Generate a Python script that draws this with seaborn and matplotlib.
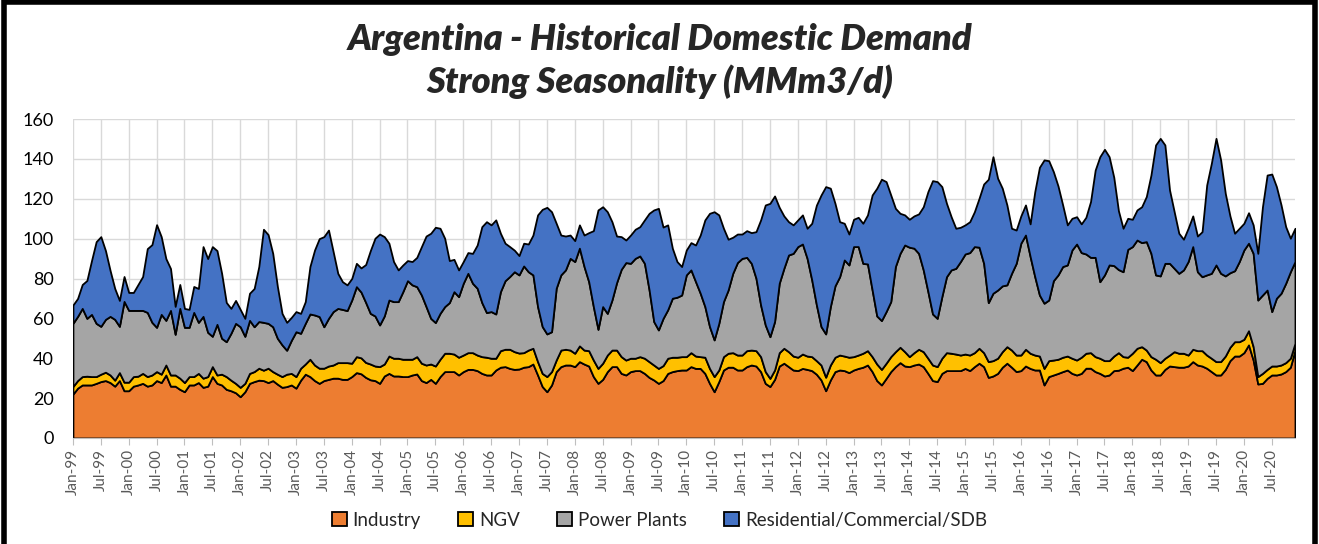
import numpy as np
import pandas as pd
import matplotlib.pyplot as plt
import seaborn as sns
from matplotlib.patches import Rectangle

# Monthly demand (MMm3/d), Jan-99 .. Dec-20, one row per year
industry = [
    22.0, 25.0, 26.6, 26.6, 26.6, 27.4, 28.3, 28.8, 27.8, 26.0, 28.8, 23.7,
    23.7, 26.0, 26.6, 27.4, 26.0, 26.6, 28.8, 27.8, 31.6, 26.0, 26.0, 24.4,
    23.2, 26.6, 26.6, 27.8, 25.4, 26.0, 30.8, 27.4, 26.6, 24.4, 23.7, 22.7,
    20.7, 23.2, 27.4, 28.3, 29.0, 28.8, 27.8, 28.8, 27.0, 25.4, 25.8, 26.6,
    25.0, 29.0, 32.0, 30.8, 28.8, 27.4, 28.8, 29.4, 30.0, 30.0, 29.4, 29.4,
    30.8, 32.8, 32.2, 30.4, 29.2, 28.8, 27.4, 31.1, 32.4, 31.1, 31.1, 30.8,
    30.8, 31.6, 32.1, 28.8, 27.8, 29.4, 27.4, 30.8, 33.3, 33.3, 33.3, 31.6,
    33.3, 34.4, 34.4, 33.8, 32.4, 31.6, 31.6, 34.1, 35.5, 35.8, 34.9, 34.4,
    34.6, 35.5, 35.8, 37.1, 31.6, 25.8, 23.2, 26.6, 33.3, 35.8, 36.6, 36.6,
    35.8, 38.3, 37.1, 36.1, 30.8, 27.4, 29.4, 33.3, 35.8, 35.8, 32.4, 31.6,
    33.3, 33.8, 33.8, 32.4, 30.4, 29.1, 27.4, 28.8, 32.4, 33.3, 33.8, 34.1,
    34.1, 35.8, 34.9, 34.9, 32.4, 27.4, 23.2, 28.3, 34.1, 35.5, 35.5, 34.1,
    34.1, 35.8, 36.6, 36.1, 33.3, 27.4, 25.8, 29.4, 36.1, 37.5, 35.8, 34.1,
    33.8, 34.9, 34.4, 33.8, 32.0, 29.1, 23.7, 29.1, 33.3, 34.1, 33.8, 32.8,
    34.1, 34.9, 35.5, 36.6, 33.3, 28.8, 26.6, 29.9, 33.3, 35.8, 37.8, 36.1,
    35.8, 36.6, 37.1, 35.8, 32.4, 28.8, 28.3, 32.4, 33.8, 33.8, 33.8, 33.8,
    34.9, 33.8, 35.8, 37.5, 35.8, 30.4, 31.1, 32.4, 35.5, 37.5, 35.5, 33.3,
    33.8, 36.1, 34.9, 34.1, 34.1, 26.6, 30.8, 31.6, 32.4, 33.3, 34.1, 32.4,
    31.6, 32.4, 35.0, 35.0, 33.3, 32.4, 31.1, 31.6, 33.8, 34.0, 35.0, 35.5,
    33.8, 36.6, 39.5, 38.3, 34.1, 31.6, 31.6, 34.4, 36.1, 35.8, 35.5, 35.5,
    36.1, 38.3, 36.6, 36.1, 35.0, 33.3, 31.6, 31.6, 34.4, 38.8, 41.1, 41.1,
    42.8, 46.7, 39.1, 27.1, 27.4, 29.9, 31.6, 31.6, 32.1, 33.3, 35.5, 44.1,
]
ngv = [
    3.8, 3.8, 4.2, 4.4, 4.2, 3.4, 3.7, 4.2, 3.8, 3.0, 4.0, 4.3,
    4.3, 4.8, 4.4, 5.0, 4.8, 5.0, 4.5, 4.2, 5.0, 5.6, 5.6, 5.6,
    4.6, 4.2, 4.2, 4.6, 4.6, 4.8, 5.0, 4.2, 5.4, 6.4, 5.3, 4.7,
    4.7, 4.2, 5.0, 5.0, 6.0, 5.2, 7.2, 4.5, 5.0, 5.4, 6.2, 5.8,
    5.8, 6.0, 5.1, 8.7, 7.8, 7.6, 6.2, 6.7, 6.6, 7.8, 8.4, 8.4,
    6.7, 8.0, 8.0, 7.5, 7.9, 7.3, 8.4, 6.0, 8.7, 8.9, 8.9, 8.7,
    8.7, 7.9, 8.7, 8.7, 8.8, 7.7, 8.7, 8.7, 9.2, 9.2, 8.8, 8.9,
    8.3, 8.4, 8.4, 7.8, 8.4, 8.9, 8.4, 5.9, 8.3, 8.7, 9.6, 8.9,
    8.0, 7.3, 8.3, 7.9, 6.7, 6.6, 7.6, 6.7, 5.8, 8.3, 7.9, 7.5,
    6.7, 7.9, 7.0, 7.7, 8.3, 7.5, 8.1, 8.3, 8.3, 8.3, 8.4, 7.5,
    6.7, 6.2, 7.0, 7.6, 7.9, 7.5, 7.5, 7.5, 7.6, 7.2, 6.7, 6.7,
    6.7, 7.0, 6.2, 5.9, 8.1, 7.5, 7.6, 5.8, 6.7, 7.0, 7.3, 7.5,
    7.5, 8.0, 7.5, 7.7, 7.5, 5.9, 4.1, 4.7, 6.7, 7.5, 7.5, 7.0,
    6.7, 7.2, 6.7, 7.0, 6.8, 7.5, 6.8, 7.5, 7.2, 7.5, 7.3, 7.7,
    6.7, 6.7, 7.0, 7.2, 7.5, 8.3, 7.8, 7.6, 7.5, 7.5, 7.7, 7.2,
    5.0, 6.2, 7.4, 7.5, 7.6, 7.8, 7.5, 7.6, 9.0, 8.7, 8.3, 7.8,
    7.2, 7.8, 7.0, 7.5, 7.0, 7.9, 7.7, 7.6, 7.8, 8.3, 8.6, 8.3,
    7.8, 8.4, 7.6, 7.5, 7.0, 8.3, 8.0, 7.5, 7.1, 7.2, 7.0, 7.6,
    7.5, 8.1, 7.5, 7.8, 7.5, 7.6, 7.7, 7.2, 7.3, 8.8, 5.8, 5.0,
    8.7, 8.4, 6.3, 5.8, 6.7, 7.9, 6.2, 5.6, 5.5, 7.5, 7.0, 7.0,
    5.5, 6.2, 7.2, 7.7, 6.6, 6.7, 6.7, 6.7, 6.7, 6.7, 7.2, 7.2,
    6.7, 7.1, 6.7, 3.7, 5.0, 4.5, 4.5, 4.5, 4.5, 4.5, 4.5, 3.4,
]
power_plants = [
    31.7, 32.2, 34.2, 29.0, 31.2, 26.7, 24.0, 26.5, 29.4, 30.5, 23.2, 40.5,
    36.0, 33.2, 33.0, 31.6, 32.2, 26.4, 22.2, 30.0, 22.4, 32.4, 20.4, 35.0,
    27.7, 24.7, 32.2, 25.6, 31.0, 22.2, 15.2, 25.4, 18.0, 17.5, 23.5, 30.1,
    30.4, 23.6, 26.6, 22.5, 23.4, 24.0, 22.5, 22.5, 18.0, 15.9, 12.0, 16.6,
    22.5, 17.5, 20.4, 22.7, 25.1, 25.9, 20.8, 23.9, 26.8, 27.2, 26.7, 26.1,
    31.7, 35.1, 33.0, 30.1, 25.4, 25.1, 20.9, 24.1, 28.1, 28.4, 28.4, 33.9,
    39.4, 37.3, 35.1, 34.2, 29.3, 22.9, 21.8, 23.0, 23.4, 25.4, 31.3, 30.4,
    36.0, 39.8, 34.8, 33.5, 27.1, 22.4, 23.4, 22.2, 29.6, 34.4, 36.5, 40.1,
    39.2, 43.5, 39.3, 36.8, 27.6, 23.5, 21.4, 20.0, 36.0, 37.7, 39.8, 46.0,
    46.0, 49.0, 41.9, 34.6, 26.8, 19.6, 28.4, 20.9, 25.1, 33.8, 43.8, 48.9,
    47.6, 50.1, 50.5, 47.6, 35.9, 21.8, 19.3, 23.7, 24.3, 29.6, 30.1, 30.9,
    41.0, 41.5, 37.3, 31.8, 25.4, 21.0, 18.4, 23.4, 27.6, 31.7, 39.8, 46.4,
    48.5, 46.8, 43.5, 36.3, 25.9, 23.4, 20.9, 24.3, 34.8, 40.1, 48.5, 51.5,
    55.5, 55.2, 49.0, 38.5, 28.0, 19.3, 21.7, 29.3, 35.8, 39.3, 48.2, 46.3,
    55.2, 54.4, 45.1, 43.5, 33.4, 24.1, 24.5, 25.9, 27.6, 42.7, 47.1, 53.5,
    54.9, 52.4, 48.1, 41.0, 33.4, 25.6, 24.2, 30.9, 38.1, 41.8, 43.0, 46.9,
    50.2, 51.4, 53.2, 50.7, 44.8, 29.6, 33.8, 34.2, 33.0, 31.0, 38.5, 46.0,
    56.1, 57.3, 48.5, 39.3, 30.6, 32.7, 30.4, 39.8, 42.3, 45.5, 45.7, 54.3,
    58.2, 52.5, 49.8, 47.8, 49.8, 38.4, 43.0, 48.0, 45.4, 41.7, 42.6, 54.1,
    53.5, 54.3, 52.2, 54.4, 51.8, 42.3, 43.5, 47.6, 46.0, 41.8, 40.1, 41.8,
    46.9, 51.5, 39.6, 37.1, 40.2, 42.6, 48.5, 44.3, 40.2, 37.4, 35.6, 40.2,
    44.8, 43.9, 46.8, 38.4, 39.3, 39.8, 27.3, 34.0, 36.0, 39.8, 43.4, 41.0,
]
residential = [
    9.2, 9.0, 12.0, 19.0, 27.0, 41.0, 45.0, 34.5, 23.0, 15.5, 13.0, 12.5,
    9.0, 9.0, 13.0, 17.0, 32.0, 39.0, 51.5, 39.0, 31.0, 21.0, 14.0, 12.0,
    9.5, 9.0, 13.0, 17.0, 35.0, 37.0, 45.0, 37.0, 32.6, 19.7, 12.5, 11.5,
    8.7, 9.0, 13.6, 19.2, 27.6, 46.7, 44.5, 36.8, 26.0, 15.8, 14.0, 11.5,
    10.1, 10.0, 10.9, 23.8, 32.6, 39.1, 45.2, 44.3, 30.1, 17.6, 13.9, 12.9,
    10.8, 11.7, 12.1, 19.0, 31.5, 39.0, 45.6, 39.8, 28.5, 20.1, 15.9, 13.4,
    10.1, 11.7, 14.7, 24.3, 35.4, 42.7, 47.8, 42.7, 34.3, 21.1, 16.2, 13.4,
    10.9, 10.4, 15.0, 21.7, 38.1, 45.6, 43.5, 47.2, 29.3, 18.8, 15.0, 10.8,
    9.7, 11.4, 13.9, 20.0, 46.0, 58.8, 63.5, 60.2, 32.6, 20.0, 17.0, 11.7,
    10.5, 11.7, 15.8, 24.6, 38.1, 59.9, 50.1, 51.0, 39.3, 23.4, 16.4, 11.3,
    14.2, 14.6, 14.7, 21.8, 38.5, 56.0, 61.0, 45.8, 42.6, 25.1, 17.9, 14.3,
    12.5, 13.7, 18.4, 29.2, 43.5, 56.8, 64.3, 54.4, 36.8, 25.5, 18.1, 14.3,
    12.2, 13.4, 15.4, 23.4, 42.7, 60.2, 66.9, 63.0, 38.1, 26.3, 16.7, 14.3,
    13.4, 14.6, 15.1, 28.4, 50.0, 66.0, 73.9, 59.4, 41.4, 27.6, 18.4, 15.5,
    13.7, 14.7, 20.1, 24.6, 47.7, 64.1, 70.9, 65.2, 53.5, 29.2, 20.1, 15.1,
    14.0, 16.2, 19.8, 31.7, 50.2, 66.9, 68.6, 55.2, 36.8, 26.7, 20.1, 17.2,
    14.6, 15.5, 17.5, 24.5, 39.8, 61.9, 68.5, 56.1, 49.0, 40.1, 22.6, 16.7,
    13.7, 15.1, 16.4, 42.7, 64.1, 71.9, 69.9, 54.7, 44.6, 30.9, 20.1, 15.9,
    13.7, 14.4, 18.4, 28.0, 43.8, 62.7, 63.0, 54.3, 44.3, 29.5, 21.8, 15.6,
    13.7, 15.1, 18.0, 22.6, 39.3, 65.2, 69.0, 59.4, 36.8, 28.4, 20.1, 15.4,
    16.7, 15.4, 17.9, 22.6, 45.1, 55.2, 63.5, 56.9, 41.4, 28.5, 18.8, 16.7,
    13.4, 15.3, 14.3, 23.4, 44.3, 57.7, 69.0, 56.0, 44.3, 28.4, 16.8, 16.7,
]
series_names = ['Industry', 'NGV', 'Power Plants', 'Residential/Commercial/SDB']
series_colors = ['#ED7D31', '#FFC000', '#A5A5A5', '#4472C4']
tick_labels = [
    'Jan-99', 'Jul-99', 'Jan-00', 'Jul-00', 'Jan-01', 'Jul-01', 'Jan-02', 'Jul-02',
    'Jan-03', 'Jul-03', 'Jan-04', 'Jul-04', 'Jan-05', 'Jul-05', 'Jan-06', 'Jul-06',
    'Jan-07', 'Jul-07', 'Jan-08', 'Jul-08', 'Jan-09', 'Jul-09', 'Jan-10', 'Jul-10',
    'Jan-11', 'Jul-11', 'Jan-12', 'Jul-12', 'Jan-13', 'Jul-13', 'Jan-14', 'Jul-14',
    'Jan-15', 'Jul-15', 'Jan-16', 'Jul-16', 'Jan-17', 'Jul-17', 'Jan-18', 'Jul-18',
    'Jan-19', 'Jul-19', 'Jan-20', 'Jul-20',
]

df = pd.DataFrame({
    'Industry': industry,
    'NGV': ngv,
    'Power Plants': power_plants,
    'Residential/Commercial/SDB': residential,
})
df['month'] = np.arange(len(df))

sns.set_style('whitegrid', {'grid.color': '#D9D9D9'})
plt.rcParams['font.family'] = ['Lato', 'DejaVu Sans']

fig = plt.figure(figsize=(13.19, 5.44), dpi=100)
ax = fig.add_axes([0.0553, 0.1949, 0.9265, 0.5863])

ax.stackplot(df['month'], *[df[c] for c in series_names], labels=series_names,
             colors=series_colors, edgecolor='black', linewidth=1.3)

ax.set_xlim(0, len(df) - 1)
ax.set_ylim(0, 160)
ax.set_yticks(range(0, 161, 20))
ax.set_xticks(np.arange(len(tick_labels)) * 6)
ax.set_xticklabels(tick_labels, rotation=90, fontsize=11, color='#595959')
ax.tick_params(axis='y', labelsize=13, colors='black', length=0, pad=14)
ax.tick_params(axis='x', length=5, color='#BFBFBF', pad=3, bottom=True)
ax.grid(True, color='#D9D9D9', linewidth=1)
ax.set_axisbelow(True)
for side in ['top', 'right', 'left']:
    ax.spines[side].set_visible(False)
ax.spines['bottom'].set_color('#BFBFBF')
ax.set_xlabel('')
ax.set_ylabel('')

fig.text(0.5, 0.928, 'Argentina - Historical Domestic Demand', ha='center', va='center',
         fontsize=26, fontweight='heavy', fontstyle='italic')
fig.text(0.5, 0.850, 'Strong Seasonality (MMm3/d)', ha='center', va='center',
         fontsize=26, fontweight='heavy', fontstyle='italic')

leg = ax.legend(loc='center', bbox_to_anchor=(0.5, 0.044), bbox_transform=fig.transFigure,
                ncol=4, frameon=False, fontsize=13.5, handlelength=0.8, handleheight=0.8,
                handletextpad=0.3, columnspacing=2.0)

fig.patches.append(Rectangle((0.003, -0.02), 0.994, 1.017, transform=fig.transFigure,
                             fill=False, edgecolor='black', linewidth=4))

fig.savefig('out.png', dpi=100, facecolor='white')
